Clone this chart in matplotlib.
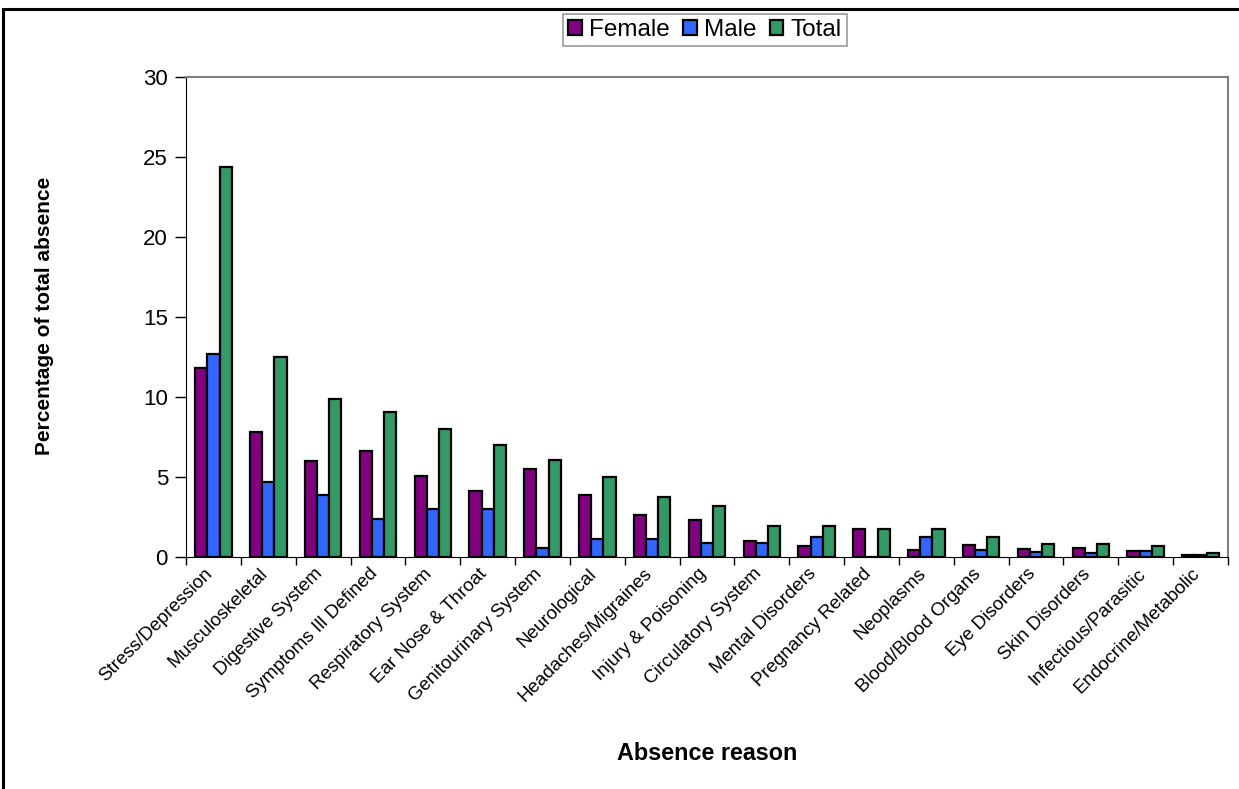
import numpy as np
import matplotlib
matplotlib.use("Agg")
import matplotlib.pyplot as plt
import matplotlib.transforms as mtransforms
from matplotlib.patches import Rectangle

plt.rcParams['font.family'] = ['Liberation Sans', 'DejaVu Sans']

reasons = ["Stress/Depression", "Musculoskeletal", "Digestive System",
           "Symptoms Ill Defined", "Respiratory System", "Ear Nose & Throat",
           "Genitourinary System", "Neurological", "Headaches/Migraines",
           "Injury & Poisoning", "Circulatory System", "Mental Disorders",
           "Pregnancy Related", "Neoplasms", "Blood/Blood Organs",
           "Eye Disorders", "Skin Disorders", "Infectious/Parasitic",
           "Endocrine/Metabolic"]

female = [11.8, 7.8, 6.0, 6.65, 5.05, 4.1, 5.5, 3.9, 2.65, 2.3, 1.02, 0.7,
          1.72, 0.46, 0.78, 0.47, 0.57, 0.35, 0.12]
male = [12.7, 4.7, 3.9, 2.4, 2.98, 2.98, 0.56, 1.13, 1.13, 0.9, 0.9, 1.26,
        0.0, 1.26, 0.46, 0.33, 0.22, 0.35, 0.12]
total = [24.4, 12.5, 9.85, 9.05, 8.02, 7.0, 6.08, 5.03, 3.77, 3.2, 1.94, 1.94,
         1.72, 1.72, 1.26, 0.79, 0.79, 0.7, 0.23]

series = [("Female", female, "#800080"),
          ("Male", male, "#3366FF"),
          ("Total", total, "#339966")]

fig = plt.figure(figsize=(12.39, 7.89), dpi=100)
ax = fig.add_axes([186 / 1239, 1 - 557 / 789, (1228 - 186) / 1239, (557 - 77) / 789])

# outer chart border, runs off the right and bottom edges
fig.patches.append(Rectangle((3 / 1239, -0.05), 1.1, 1 - 9 / 789 + 0.05,
                             transform=fig.transFigure, fill=False,
                             edgecolor='black', linewidth=2.2, zorder=0))

x = np.arange(len(reasons))
w = 1 / 4.5
for i, (name, vals, col) in enumerate(series):
    ax.bar(x + (i - 1) * w, vals, w, color=col, edgecolor='black',
           linewidth=1.6, label=name, zorder=3)

ax.set_xlim(-0.5, len(reasons) - 0.5)
ax.set_ylim(0, 30)
ax.set_yticks(range(0, 31, 5))
ax.tick_params(axis='y', direction='out', length=8, width=1, labelsize=16, pad=5)

ax.set_xticks(np.arange(len(reasons) + 1) - 0.5, minor=False)
ax.set_xticklabels([])
ax.tick_params(axis='x', direction='out', length=6, width=1)
ax.set_xticks(x, minor=True)
ax.set_xticklabels(reasons, minor=True, rotation=45, ha='right',
                   rotation_mode='anchor', fontsize=13.5)
ax.tick_params(axis='x', which='minor', length=0, pad=6)
shift = mtransforms.ScaledTranslation(-9 / 100, 0, fig.dpi_scale_trans)
for lbl in ax.get_xticklabels(minor=True):
    lbl.set_transform(lbl.get_transform() + shift)

for side in ['top', 'right']:
    ax.spines[side].set_color('#808080')
    ax.spines[side].set_linewidth(1.5)
ax.spines['left'].set_color('black')
ax.spines['bottom'].set_color('black')

fig.text(45 / 1239, 1 - 316 / 789, "Percentage of total absence", fontsize=15,
         fontweight='bold', rotation=90, ha='center', va='center')
fig.text(707 / 1239, 1 - 753 / 789, "Absence reason", fontsize=16.8,
         fontweight='bold', ha='center', va='center')

leg = fig.legend(loc='center', bbox_to_anchor=(705 / 1239, 1 - 30 / 789), ncol=3,
                 fontsize=17.5, frameon=True, fancybox=False, edgecolor='#808080',
                 handlelength=0.55, handleheight=0.55, handletextpad=0.3,
                 columnspacing=0.55, borderpad=0.22)
leg.get_frame().set_linewidth(1.2)

fig.savefig("out.png", dpi=100)
